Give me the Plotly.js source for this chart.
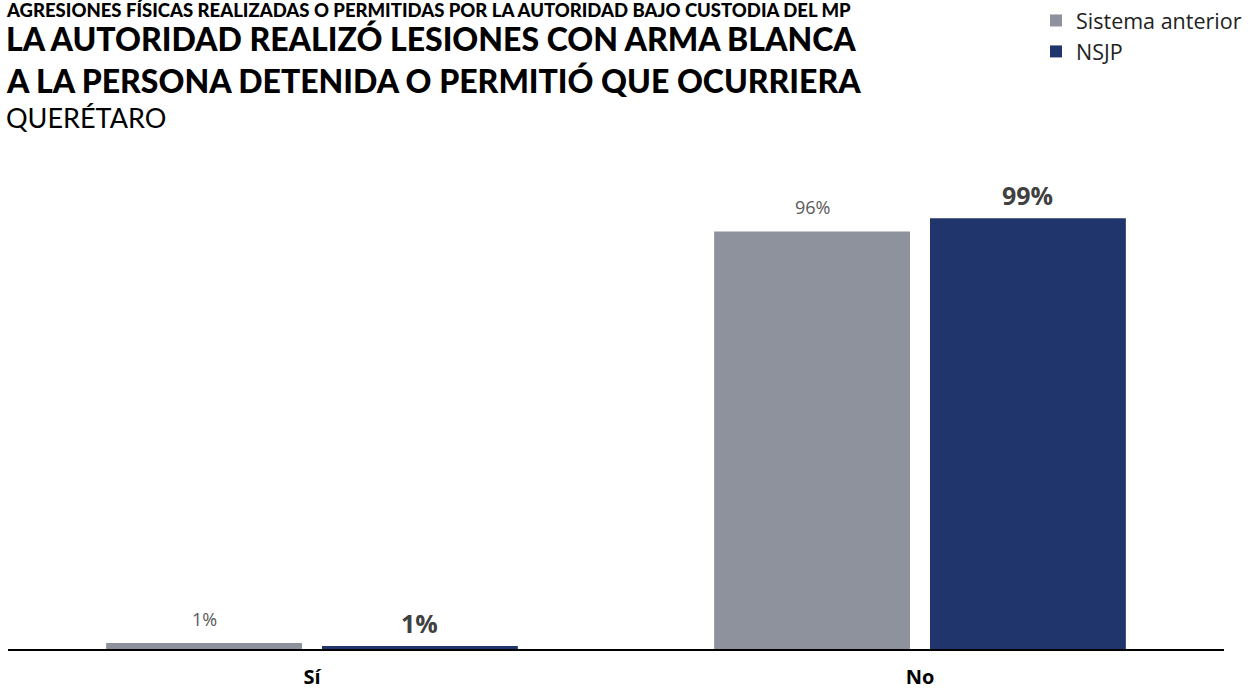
<!DOCTYPE html>
<html><head><meta charset="utf-8">
<script src="https://cdn.plot.ly/plotly-3.0.1.min.js"></script>
<style>body{margin:0;background:#fff}#chart{width:1257px;height:692px}</style>
</head><body><div id="chart"></div>
<script>
const categories = ["Sí", "No"];
const seriesNames = ["Sistema anterior", "NSJP"];
const sistemaAnterior = [1.4, 96];
const nsjp = [0.7, 99];
const sistemaAnteriorLabels = ["1%", "96%"];
const nsjpLabels = ["1%", "99%"];
const titleLines = [
  "AGRESIONES FÍSICAS REALIZADAS O PERMITIDAS POR LA AUTORIDAD BAJO CUSTODIA DEL MP",
  "LA AUTORIDAD REALIZÓ LESIONES CON ARMA BLANCA",
  "A LA PERSONA DETENIDA O PERMITIÓ QUE OCURRIERA",
  "QUERÉTARO"
];

const GRAY = "#8d929c", NAVY = "#20356b";
const W = 1257, H = 692, mt = 214, mb = 43, ml = 8, mr = 33;
const plotH = H - mt - mb;
const py = px => (H - mb - px) / plotH;

const traces = [
  {type: "bar", name: seriesNames[0], x: categories, y: sistemaAnterior,
   marker: {color: GRAY}, hoverinfo: "none"},
  {type: "bar", name: seriesNames[1], x: categories, y: nsjp,
   marker: {color: NAVY}, hoverinfo: "none"}
];

const plotW = W - ml - mr;
const bargap = 0.29, bargroupgap = 0.0926;
const slot = plotW / categories.length * (1 - bargap) / 2;

const annotations = [];
categories.forEach((c, i) => {
  annotations.push({x: c, y: sistemaAnterior[i], xref: "x", yref: "y", text: sistemaAnteriorLabels[i],
    showarrow: false, xshift: -slot / 2, yshift: 24, yanchor: "middle",
    font: {family: "Open Sans", size: 18, color: "#595959"}});
  annotations.push({x: c, y: nsjp[i], xref: "x", yref: "y", text: "<b>" + nsjpLabels[i] + "</b>",
    showarrow: false, xshift: slot / 2, yshift: 23, yanchor: "middle",
    font: {family: "Open Sans", size: 25, color: "#404040"}});
});
const tStyles = [
  {size: 18.5, family: "Lato", weight: 900, y: 10},
  {size: 32, family: "Lato", weight: 900, y: 38},
  {size: 32, family: "Lato", weight: 900, y: 80},
  {size: 27, family: "Lato", weight: 400, y: 117}
];
titleLines.forEach((t, i) => {
  const s = tStyles[i];
  annotations.push({xref: "paper", yref: "paper", x: -4 / plotW, y: py(s.y), xanchor: "left", yanchor: "middle",
    text: t, showarrow: false,
    font: {family: s.family, size: s.size, weight: s.weight, color: "#000"}});
});

const layout = {
  width: W, height: H,
  margin: {l: ml, r: mr, t: mt, b: mb, autoexpand: false},
  paper_bgcolor: "#fff", plot_bgcolor: "#fff",
  barmode: "group", bargap: bargap, bargroupgap: bargroupgap,
  showlegend: true,
  legend: {x: 1036 / W, xanchor: "left", xref: "container", y: 1 + 3 / H, yanchor: "top", yref: "container",
    font: {family: "Open Sans", size: 21.5, color: "#222"}, itemwidth: 30, tracegroupgap: 0,
    bgcolor: "rgba(0,0,0,0)"},
  xaxis: {showline: true, linecolor: "#000", linewidth: 1.5, showgrid: false, zeroline: false,
    ticks: "", ticklabelstandoff: 9,
    tickfont: {family: "Open Sans", size: 20, weight: 700, color: "#000"}},
  yaxis: {range: [0, 100], visible: false, showgrid: false, zeroline: false, fixedrange: true},
  annotations: annotations
};

Plotly.newPlot("chart", traces, layout, {displayModeBar: false, staticPlot: true});
</script></body></html>
